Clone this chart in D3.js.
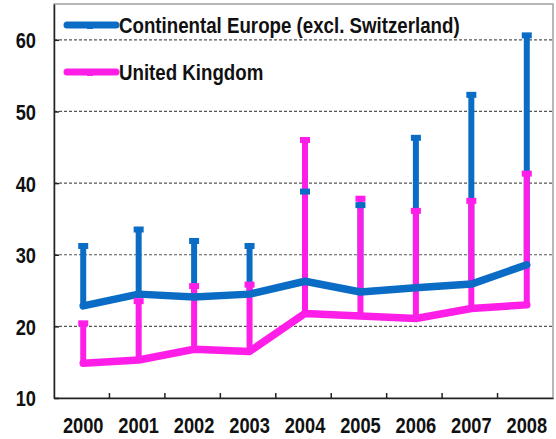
<!DOCTYPE html>
<html><head><meta charset="utf-8">
<script src="https://cdn.jsdelivr.net/npm/d3@7"></script>
<style>body{margin:0;background:#fff}svg{display:block}</style>
</head><body>
<svg id="c" width="556" height="439"></svg>
<script>
const years = ["2000","2001","2002","2003","2004","2005","2006","2007","2008"];
const europeLow  = [22.85, 24.5, 24.1, 24.5, 26.3, 24.8, 25.4, 25.9, 28.6];
const europeHigh = [31.5, 33.8, 32.2, 31.5, 39.1, 37.2, 46.6, 52.6, 60.9];
const ukLow  = [14.85, 15.3, 16.8, 16.5, 21.8, 21.45, 21.1, 22.5, 23.0];
const ukHigh = [20.7, 23.8, 25.9, 26.1, 46.3, 38.1, 36.4, 37.8, 41.6];
const yTicks = [10, 20, 30, 40, 50, 60];
const seriesNames = ["Continental Europe (excl. Switzerland)", "United Kingdom"];
const colors = ["#0a6cc4", "#ff1ee8"];

const svg = d3.select("#c");
const L = 54, R = 553, T = 4, B = 398;
const x = d3.scaleBand().domain(years).range([L, R]);
const y = d3.scaleLinear().domain([10, 65]).range([B, T]);
const font = "'Liberation Sans', Arial, sans-serif";
const SX = 0.83;

// frame
svg.append("rect").attr("x", L).attr("y", T).attr("width", R - L).attr("height", B - T)
  .attr("fill", "none").attr("stroke", "#a0a0a0").attr("stroke-width", 1.5);

// gridlines
svg.append("g").selectAll("line").data(yTicks.filter(d => d > 10)).join("line")
  .attr("x1", L).attr("x2", R).attr("y1", d => y(d)).attr("y2", d => y(d))
  .attr("stroke", "#555").attr("stroke-width", 1.2).attr("stroke-dasharray", "3,2");

// axes (lines and ticks from d3 axes; labels condensed)
const yAxis = svg.append("g").attr("transform", `translate(${L},0)`)
  .call(d3.axisLeft(y).tickValues(yTicks).tickSizeInner(-5).tickSizeOuter(0).tickFormat(""));
yAxis.select(".domain").attr("stroke", "#222").attr("stroke-width", 1.5);
yAxis.selectAll(".tick line").attr("stroke", "#222").attr("stroke-width", 1.5);
yAxis.selectAll(".tick").append("text")
  .attr("transform", `translate(-18,0) scale(${SX},1)`)
  .attr("text-anchor", "end").attr("dy", "0.36em")
  .attr("font-family", font).attr("font-weight", "bold").attr("font-size", 22)
  .attr("fill", "#111").text(d => d);

const xAxis = svg.append("g").attr("transform", `translate(0,${B})`)
  .call(d3.axisBottom(x).tickSize(0).tickFormat(""));
xAxis.select(".domain").attr("stroke", "#222").attr("stroke-width", 1.5);
xAxis.selectAll(".tick").append("text")
  .attr("transform", `translate(1.5,35) scale(${SX},1)`)
  .attr("text-anchor", "middle")
  .attr("font-family", font).attr("font-weight", "bold").attr("font-size", 22)
  .attr("fill", "#111").text(d => d);
// category boundary ticks (inside)
svg.append("g").selectAll("line").data(years.slice(1)).join("line")
  .attr("x1", d => x(d)).attr("x2", d => x(d)).attr("y1", B).attr("y2", B - 5)
  .attr("stroke", "#222").attr("stroke-width", 1.5);

const cx = d => x(d) + x.bandwidth() / 2 + 1.5;
const series = [
  {low: europeLow, high: europeHigh, color: colors[0]},
  {low: ukLow, high: ukHigh, color: colors[1]}
];

// bars (blue then magenta)
series.forEach(s => {
  svg.append("g").selectAll("line").data(years).join("line")
    .attr("x1", cx).attr("x2", cx)
    .attr("y1", (d, i) => y(s.low[i])).attr("y2", (d, i) => y(s.high[i]))
    .attr("stroke", s.color).attr("stroke-width", 6);
});
// lines (magenta then blue)
[series[1], series[0]].forEach(s => {
  svg.append("path").datum(years)
    .attr("d", d3.line().x(cx).y((d, i) => y(s.low[i])))
    .attr("fill", "none").attr("stroke", s.color).attr("stroke-width", 7.5)
    .attr("stroke-linejoin", "round").attr("stroke-linecap", "round");
});
// caps
series.forEach(s => {
  svg.append("g").selectAll("rect").data(years).join("rect")
    .attr("x", d => cx(d) - 5).attr("y", (d, i) => y(s.high[i]) - 1)
    .attr("width", 10).attr("height", 6).attr("fill", s.color);
});

// legend
const lg = svg.append("g");
seriesNames.forEach((n, i) => {
  const ly = 25 + i * 47;
  lg.append("line").attr("x1", 67).attr("x2", 116).attr("y1", ly).attr("y2", ly)
    .attr("stroke", colors[i]).attr("stroke-width", 7).attr("stroke-linecap", "round");
  lg.append("rect").attr("x", 87).attr("y", ly - 1).attr("width", 6).attr("height", 5).attr("fill", colors[i]);
  lg.append("text").attr("transform", `translate(119,${ly}) scale(0.85,1)`).attr("dy", "0.36em")
    .attr("font-family", font).attr("font-weight", "bold").attr("font-size", 22)
    .attr("fill", "#111").text(n);
});
</script>
</body></html>
